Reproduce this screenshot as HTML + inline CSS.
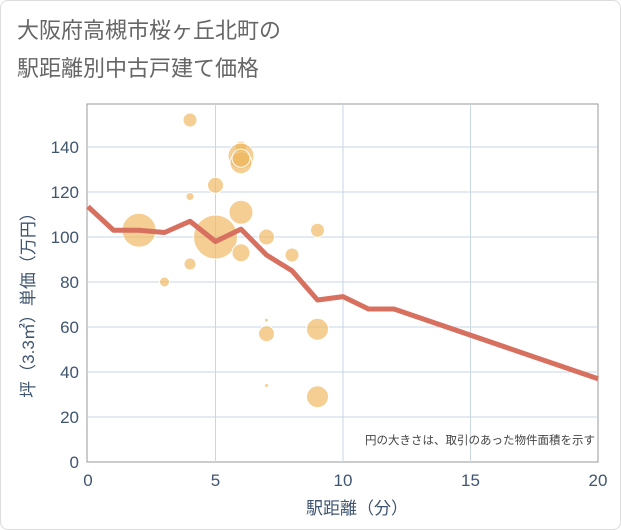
<!DOCTYPE html>
<html><head><meta charset="utf-8"><style>
body{margin:0;background:#fff;font-family:"Liberation Sans","Noto Sans CJK JP",sans-serif;}
#wrap{position:relative;width:619px;height:528px;border:1px solid #ddd;border-radius:8px;background:#fff;overflow:hidden}
.t{position:absolute;left:16px;color:#666;font-size:22px;line-height:28px}
</style></head><body>
<div id="wrap">
<div class="t" style="top:16px">大阪府高槻市桜ヶ丘北町の</div>
<div class="t" style="top:54px">駅距離別中古戸建て価格</div>
<svg id="chart" width="621" height="530" style="position:absolute;left:0;top:0"></svg>
</div>
<script>
const lineX=[0,1,2,3,4,5,6,7,8,9,10,11,12,20];
const lineY=[113.5,103,103,102,107,98,103.5,92,85,72,73.5,68,68,37];
const bubX=[2,4,4,4,3,5,5,6,6,6,6,6,6,7,7,7,7,8,9,9,9];
const bubY=[103,152,118,88,80,123,100,140,136,133,135,111,93,100,63,57,34,92,103,59,29];
const bubR=[17,7,4,6,5,8,22,6,13,11,9,12,9,8,2,8,2,7,7,11,11];
const xTicks=[0,5,10,15,20];
const yTicks=[0,20,40,60,80,100,120,140];
const L=87,R=597,T=103,B=461;
const sx=v=>L+(R-L)*v/20, sy=v=>B-(B-146)*v/140;
const svg=document.getElementById('chart');
const NS='http://www.w3.org/2000/svg';
function mk(tag,attrs,parent){const e=document.createElementNS(NS,tag);for(const k in attrs)e.setAttribute(k,attrs[k]);(parent||svg).appendChild(e);return e;}
let e=mk('rect',{x:86,y:T,width:R-86,height:B-T,fill:'#fff',stroke:'#999','stroke-width':1});


yTicks.forEach(v=>{
 if(v>0){let g=mk('line',{x1:86,x2:R,y1:sy(v),y2:sy(v),stroke:'#c9d6e3','stroke-width':1});
 
 }
 let t=mk('text',{x:78,y:sy(v)+6,'text-anchor':'end','font-size':17,fill:'#3f5570'});t.textContent=v;
 
 
});
xTicks.forEach(v=>{
 if(v>0&&v<20){let g=mk('line',{x1:sx(v),x2:sx(v),y1:T,y2:B,stroke:'#c9d6e3','stroke-width':1});
 
 }
 let t=mk('text',{x:sx(v),y:485,'text-anchor':'middle','font-size':17,fill:'#3f5570'});t.textContent=v;
 
 
});
bubX.forEach((x,i)=>{
 let c=mk('circle',{cx:sx(x),cy:sy(bubY[i]),r:bubR[i],fill:'rgba(240,185,100,0.7)',stroke:'#fff','stroke-width':1});
 
 
});
let p=mk('polyline',{points:lineX.map((x,i)=>sx(x)+','+sy(lineY[i])).join(' '),fill:'none',stroke:'#d87060','stroke-width':5,'stroke-linejoin':'round'});


let n=mk('text',{x:594,y:443,'text-anchor':'end','font-size':11.5,fill:'#444'});n.textContent='円の大きさは、取引のあった物件面積を示す';


let xt=mk('text',{x:356,y:513,'text-anchor':'middle','font-size':17,fill:'#3f5570'});xt.textContent='駅距離（分）';


let yt=mk('text',{x:0,y:0,'text-anchor':'middle','font-size':17,fill:'#3f5570',transform:'translate(33,300) rotate(-90)'});yt.textContent='坪（3.3㎡）単価（万円）';


</script>
</body></html>
